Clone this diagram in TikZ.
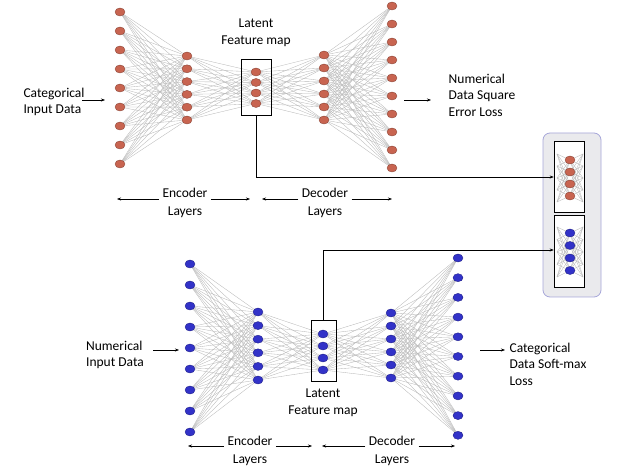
\documentclass[tikz,border=0pt]{standalone}
\usepackage{fontspec}
\setmainfont{Carlito}
\usetikzlibrary{arrows.meta,shapes.geometric}
\definecolor{nred}{RGB}{200,100,80}
\definecolor{nblue}{RGB}{50,50,200}
\begin{document}
\begin{tikzpicture}[x=1pt,y=-1pt,
  rn/.style={ellipse,draw=nred!70!black,fill=nred,inner sep=0pt,minimum width=10pt,minimum height=8pt},
  bn/.style={ellipse,draw=nblue!70!black,fill=nblue,inner sep=0pt,minimum width=10pt,minimum height=8pt},
  ed/.style={draw=gray!55,line width=0.35pt},
  lbl/.style={font=\fontsize{13.5}{16.5}\selectfont,align=center},
  arr/.style={-{Stealth[length=4pt,width=3pt]},line width=0.5pt},
  box/.style={draw=black,line width=0.6pt}]
\useasboundingbox (0,0) rectangle (638,470);
% ---------- top network ----------
\foreach \i in {1,...,9} \coordinate (ta\i) at (120,{12+(\i-1)*19});
\foreach \i in {1,...,6} \coordinate (tb\i) at (187,{56+(\i-1)*12.8});
\foreach \i in {1,...,4} \coordinate (tc\i) at (256,{72+(\i-1)*10.5});
\foreach \i in {1,...,6} \coordinate (td\i) at (324,{55+(\i-1)*13});
\foreach \i in {1,...,10} \coordinate (te\i) at (392,{6+(\i-1)*18});
\foreach \i in {1,...,9}{\foreach \j in {1,...,6}{\draw[ed] (ta\i)--(tb\j);}}
\foreach \i in {1,...,6}{\foreach \j in {1,...,4}{\draw[ed] (tb\i)--(tc\j);}}
\foreach \i in {1,...,4}{\foreach \j in {1,...,6}{\draw[ed] (tc\i)--(td\j);}}
\foreach \i in {1,...,6}{\foreach \j in {1,...,10}{\draw[ed] (td\i)--(te\j);}}
\foreach \i in {1,...,9} \node[rn] (nta\i) at (ta\i) {};
\foreach \i in {1,...,6} \node[rn] (ntb\i) at (tb\i) {};
\foreach \i in {1,...,4} \node[rn] (ntc\i) at (tc\i) {};
\foreach \i in {1,...,6} \node[rn] (ntd\i) at (td\i) {};
\foreach \i in {1,...,10} \node[rn] (nte\i) at (te\i) {};
\node[box,minimum width=30pt,minimum height=56pt] (tbox) at (256,87) {};
\node[lbl] (tlat) at (256,33) {Latent\\Feature map};
\node[lbl,align=left] (tin) at (54,102) {Categorical\\Input Data};
\coordinate (tinA) at (82,100); \coordinate (tinB) at (105,100);
\draw[arr] (tinA)--(tinB);
\node[lbl,align=left] (tout) at (482,95) {Numerical\\Data Square\\Error Loss};
\coordinate (toutA) at (404,100); \coordinate (toutB) at (431,100);
\draw[arr] (toutA)--(toutB);
\node[lbl] (tenc) at (185,203) {Encoder\\[1pt]Layers};
\coordinate (teA) at (117,199); \coordinate (teB) at (250,199);
\draw[arr] (tenc.west|-teA)--(teA); \draw[arr] (tenc.east|-teA)--(teB);
\node[lbl] (tdec) at (325,203) {Decoder\\[1pt]Layers};
\coordinate (tdA) at (262,199); \coordinate (tdB) at (392,199);
\draw[arr] (tdec.west|-tdA)--(tdA); \draw[arr] (tdec.east|-tdA)--(tdB);
% ---------- bottom network ----------
\foreach \i in {1,...,9} \coordinate (ba\i) at (190,{264+(\i-1)*21});
\foreach \i in {1,...,6} \coordinate (bb\i) at (258,{312+(\i-1)*13.6});
\foreach \i in {1,...,4} \coordinate (bc\i) at (323,{334+(\i-1)*12});
\foreach \i in {1,...,6} \coordinate (bd\i) at (391,{313+(\i-1)*13});
\foreach \i in {1,...,10} \coordinate (be\i) at (458,{258+(\i-1)*19.7});
\foreach \i in {1,...,9}{\foreach \j in {1,...,6}{\draw[ed] (ba\i)--(bb\j);}}
\foreach \i in {1,...,6}{\foreach \j in {1,...,4}{\draw[ed] (bb\i)--(bc\j);}}
\foreach \i in {1,...,4}{\foreach \j in {1,...,6}{\draw[ed] (bc\i)--(bd\j);}}
\foreach \i in {1,...,6}{\foreach \j in {1,...,10}{\draw[ed] (bd\i)--(be\j);}}
\foreach \i in {1,...,9} \node[bn] (nba\i) at (ba\i) {};
\foreach \i in {1,...,6} \node[bn] (nbb\i) at (bb\i) {};
\foreach \i in {1,...,4} \node[bn] (nbc\i) at (bc\i) {};
\foreach \i in {1,...,6} \node[bn] (nbd\i) at (bd\i) {};
\foreach \i in {1,...,10} \node[bn] (nbe\i) at (be\i) {};
\node[box,minimum width=25pt,minimum height=61pt] (bbox) at (323.5,351) {};
\node[lbl] (blat) at (323,403) {Latent\\Feature map};
\node[lbl,align=left] (bin) at (115,355) {Numerical\\Input Data};
\coordinate (binA) at (153,350); \coordinate (binB) at (179,350);
\draw[arr] (binA)--(binB);
\node[lbl,align=left] (bout) at (548,364) {Categorical\\Data Soft-max\\Loss};
\coordinate (boutA) at (480,350); \coordinate (boutB) at (505,350);
\draw[arr] (boutA)--(boutB);
\node[lbl] (benc) at (250,451) {Encoder\\[1pt]Layers};
\coordinate (beA) at (188,446); \coordinate (beB) at (312,446);
\draw[arr] (benc.west|-beA)--(beA); \draw[arr] (benc.east|-beA)--(beB);
\node[lbl] (bdec) at (392,451) {Decoder\\[1pt]Layers};
\coordinate (bdA) at (322,446); \coordinate (bdB) at (455,446);
\draw[arr] (bdec.west|-bdA)--(bdA); \draw[arr] (bdec.east|-bdA)--(bdB);
% ---------- combined box ----------
\node[draw=gray!60!blue!50,fill=blue!8!gray!15,rounded corners=7pt,line width=0.8pt,minimum width=58pt,minimum height=164pt] (cbox) at (572,215) {};
\node[box,fill=white,minimum width=30pt,minimum height=71pt] (cb1) at (569,176.5) {};
\node[box,fill=white,minimum width=30pt,minimum height=72pt] (cb2) at (569,251) {};
\foreach \i in {1,...,4}{\coordinate (cr\i) at (570,{160+(\i-1)*12});\coordinate (cu\i) at (570,{233+(\i-1)*12.5});}
\foreach \i in {1,...,4}{\foreach \k in {0,...,4}{
  \coordinate (crl\i\k) at (557,{154+\k*12}); \coordinate (crr\i\k) at (583,{154+\k*12});
  \coordinate (cul\i\k) at (557,{227+\k*12.5}); \coordinate (cur\i\k) at (583,{227+\k*12.5});
  \draw[ed] (cr\i)--(crl\i\k); \draw[ed] (cr\i)--(crr\i\k);
  \draw[ed] (cu\i)--(cul\i\k); \draw[ed] (cu\i)--(cur\i\k);}}
\foreach \i in {1,...,4}{\node[rn] (ncr\i) at (cr\i) {}; \node[bn] (ncu\i) at (cu\i) {};}
\coordinate (y1) at (0,177); \coordinate (y2) at (0,250);
\draw[arr] (tbox.south)|-(cb1.west|-y1);
\draw[arr] (bbox.north)|-(cb2.west|-y2);
\end{tikzpicture}
\end{document}
